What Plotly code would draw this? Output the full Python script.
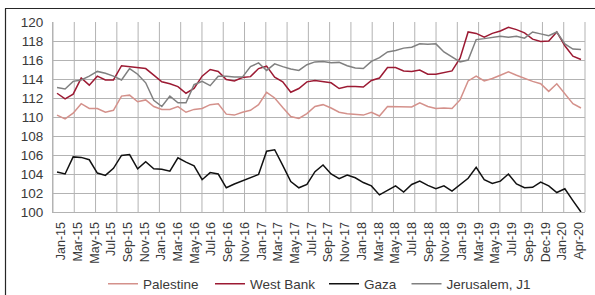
import numpy as np
import plotly.graph_objects as go

tick_labels = ["Jan-15", "Mar-15", "May-15", "Jul-15", "Sep-15", "Nov-15",
               "Jan-16", "Mar-16", "May-16", "Jul-16", "Sep-16", "Nov-16",
               "Jan-17", "Mar-17", "May-17", "Jul-17", "Sep-17", "Nov-17",
               "Jan-18", "Mar-18", "May-18", "Jul-18", "Sep-18", "Nov-18",
               "Jan-19", "Mar-19", "May-19", "Jul-19", "Sep-19", "Dec-19",
               "Jan-20", "Apr-20"]

palestine = [110.2, 109.8, 110.4, 111.4, 110.9, 110.9, 110.5, 110.7, 112.2, 112.3,
             111.6, 111.8, 111.1, 110.8, 110.8, 111.1, 110.5, 110.8, 110.9, 111.3,
             111.4, 110.3, 110.2, 110.5, 110.7, 111.3, 112.6, 112.0, 111.0, 110.05,
             109.85, 110.35, 111.1, 111.3, 110.95, 110.5, 110.35, 110.3, 110.2, 110.5,
             110.1, 111.1, 111.1, 111.1, 111.05, 111.5, 111.1, 110.9, 110.95, 110.9,
             111.8, 113.8, 114.3, 113.8, 114.05, 114.4, 114.75, 114.4, 114.05, 113.75,
             113.5, 112.7, 113.5, 112.45, 111.4, 110.95]

west_bank = [112.5, 111.9, 112.4, 114.1, 113.35, 114.3, 113.9, 113.9, 115.4, 115.3,
             115.2, 115.1, 114.4, 113.7, 113.5, 113.2, 112.5, 113.0, 114.3, 115.0,
             114.8, 113.95, 113.8, 114.15, 114.25, 115.1, 115.35, 114.2, 113.7, 112.6,
             113.0, 113.7, 113.85, 113.75, 113.6, 113.0, 113.2, 113.2, 113.15, 113.85,
             114.1, 115.2, 115.2, 114.85, 114.8, 114.95, 114.5, 114.5, 114.65, 114.85,
             116.2, 118.95, 118.8, 118.4, 118.8, 119.05, 119.45, 119.2, 118.85, 118.2,
             117.95, 118.0, 118.95, 117.5, 116.4, 116.05]

gaza = [104.2, 104.0, 105.8, 105.75, 105.5, 104.1, 103.85, 104.6, 105.95, 106.05,
        104.55, 105.3, 104.55, 104.5, 104.3, 105.7, 105.25, 104.85, 103.4, 104.15,
        104.0, 102.55, 102.95, 103.3, 103.6, 103.95, 106.4, 106.55, 104.9, 103.2,
        102.55, 102.9, 104.25, 104.95, 104.0, 103.5, 103.9, 103.6, 103.1, 102.75,
        101.8, 102.3, 102.75, 102.1, 102.9, 103.25, 102.8, 102.45, 102.75, 102.2,
        102.85, 103.55, 104.7, 103.4, 103.0, 103.25, 104.0, 102.95, 102.55, 102.6,
        103.15, 102.75, 102.05, 102.45, 101.2, 100.0]

jerusalem = [113.1, 112.95, 113.75, 113.9, 114.3, 114.8, 114.6, 114.3, 113.9, 115.1,
             114.5, 113.6, 111.75, 111.1, 112.2, 111.5, 111.5, 113.4, 113.75, 113.3,
             114.3, 114.3, 114.2, 114.2, 115.3, 115.7, 114.9, 115.6, 115.3, 115.05,
             114.9, 115.5, 115.8, 115.85, 115.7, 115.75, 115.4, 115.15, 115.1, 115.85,
             116.25, 116.85, 117.0, 117.25, 117.35, 117.7, 117.65, 117.7, 116.85, 116.3,
             115.8, 116.0, 118.15, 118.25, 118.4, 118.5, 118.4, 118.5, 118.3, 118.95,
             118.75, 118.55, 118.95, 117.7, 117.15, 117.1]

series_names = ["Palestine", "West Bank", "Gaza", "Jerusalem, J1"]
series_values = [palestine, west_bank, gaza, jerusalem]
series_colors = ["#d4918b", "#9c1a33", "#111111", "#808080"]

n = len(gaza)
periods = list(range(n))

W, H = 595, 295
FONT = "Liberation Sans, Arial, sans-serif"
TXT = "#3a3a3a"
GRID = "#b3b3b3"
FRAME = "#262626"

# paper covers the whole figure (margins are zero); helpers convert pixels
def px_x(x):
    return x / W

def px_y(y):
    return 1 - y / H

legend_ids = ["legend", "legend2", "legend3", "legend4"]
legend_left_px = [103, 210, 324, 406.5]

fig = go.Figure()
for name, vals, col, lid in zip(series_names, series_values, series_colors, legend_ids):
    fig.add_trace(go.Scatter(x=periods, y=vals, name=name, mode="lines",
                             line=dict(color=col, width=1.5), legend=lid))

tickvals = np.linspace(0.5, n - 1.25, len(tick_labels))

shapes = []
n_vgrid = 25
for k in range(n_vgrid + 1):
    shapes.append(dict(type="line", xref="x domain", yref="y domain",
                       x0=k / n_vgrid, x1=k / n_vgrid, y0=0, y1=1,
                       line=dict(color=GRID, width=1), layer="below"))
# chart-box border (top and left edges fall inside the window)
shapes.append(dict(type="line", xref="paper", yref="paper", layer="below",
                   x0=px_x(5.5), x1=1.0, y0=px_y(8.5), y1=px_y(8.5),
                   line=dict(color=FRAME, width=1.2)))
shapes.append(dict(type="line", xref="paper", yref="paper", layer="below",
                   x0=px_x(5.5), x1=px_x(5.5), y0=0.0, y1=px_y(8.5),
                   line=dict(color=FRAME, width=1.2)))

legend_common = dict(orientation="h", yanchor="middle", xanchor="left",
                     y=px_y(284), font=dict(size=13.5, color=TXT, family=FONT),
                     bgcolor="rgba(0,0,0,0)", itemwidth=30, borderwidth=0)

layout_legends = {}
for lid, lx in zip(legend_ids, legend_left_px):
    layout_legends[lid] = dict(legend_common, x=px_x(lx))

fig.update_layout(
    width=W, height=H,
    margin=dict(l=0, r=0, t=0, b=0, autoexpand=False),
    paper_bgcolor="white", plot_bgcolor="rgba(0,0,0,0)",
    font=dict(family=FONT, color=TXT, size=13),
    shapes=shapes,
    showlegend=True,
    hovermode=False,
    xaxis=dict(domain=[px_x(53), px_x(585)], range=[-0.5, n - 0.5],
               showgrid=False, zeroline=False,
               tickmode="array", tickvals=tickvals, ticktext=tick_labels,
               tickangle=-90, ticks="", ticklabelstandoff=4,
               tickfont=dict(family="Liberation Sans Narrow, Arial Narrow, Liberation Sans, sans-serif",
                             size=12.5, color=TXT),
               showline=True, linecolor=GRID, linewidth=1),
    yaxis=dict(domain=[px_y(212), px_y(22)], range=[100, 120], dtick=2, tick0=100,
               showgrid=True, gridcolor=GRID, gridwidth=1, zeroline=False, ticks="",
               ticklabelstandoff=6, tickfont=dict(size=13.5, color=TXT),
               showline=True, linecolor=GRID, linewidth=1),
    **layout_legends,
)

post = (
    "document.body.style.margin='0';"
    "document.body.style.overflow='hidden';"
    "var fr=document.createElement('div');"
    "fr.style.cssText='position:absolute;left:5px;top:8px;width:700px;height:400px;"
    "border-top:1px solid #262626;border-left:1px solid #262626;pointer-events:none;z-index:10;';"
    "document.body.appendChild(fr);"
)

fig.write_html("out.html", config={"displayModeBar": False}, post_script=post)
